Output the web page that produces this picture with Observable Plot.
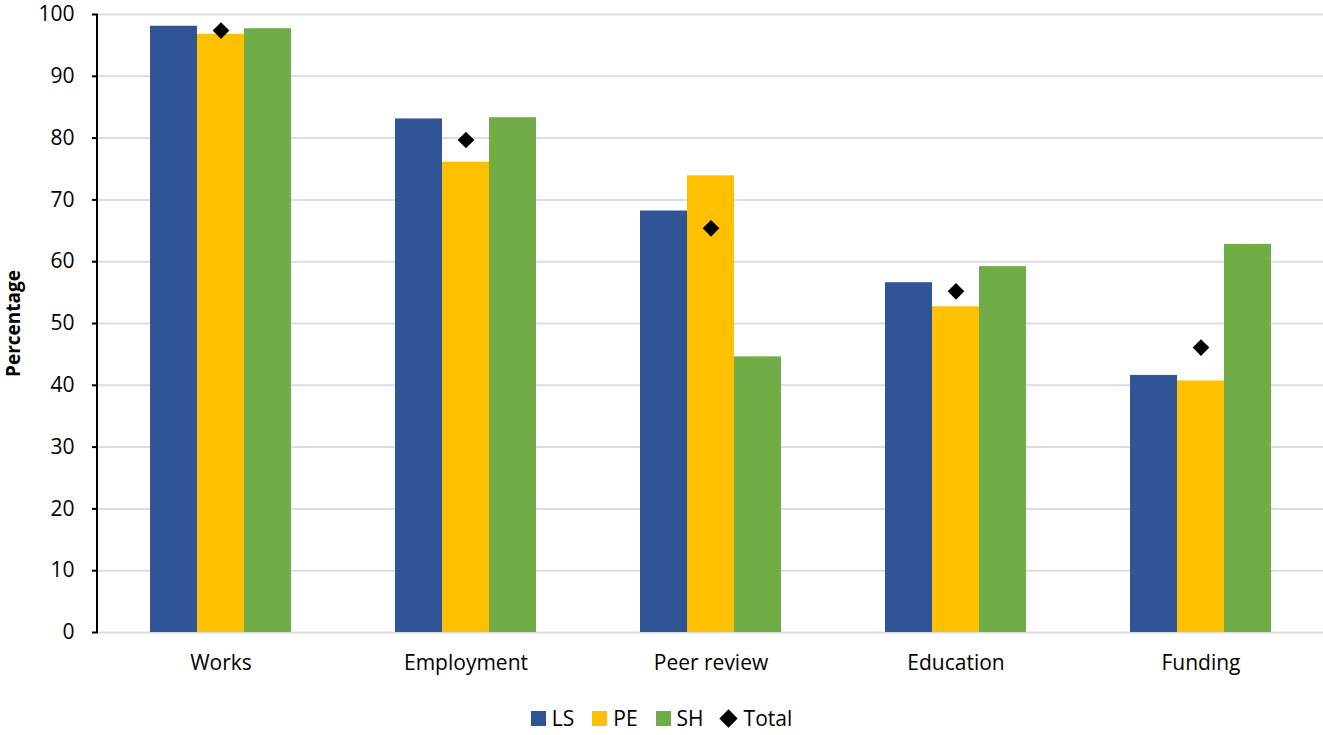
<!DOCTYPE html>
<html>
<head>
<meta charset="utf-8">
<script src="https://cdn.jsdelivr.net/npm/d3@7"></script>
<script src="https://cdn.jsdelivr.net/npm/@observablehq/plot@0.6"></script>
<style>
  body { margin: 0; background: #fff; font-family: "Open Sans", sans-serif; }
  #chart svg { display: block; }
  #legend { display: flex; justify-content: center; align-items: center; gap: 18px; font-size: 21px; color: #000; padding-top: 14px; padding-left: 0px; }
  .item { display: flex; align-items: center; gap: 6px; }
  .sw { width: 15px; height: 15px; display: inline-block; }
  .dia { width: 13px; height: 13px; background: #000; transform: rotate(45deg); display: inline-block; margin-right: 3px; }
</style>
</head>
<body>
<div id="chart"></div>
<div id="legend"></div>
<script>
const categories = ["Works", "Employment", "Peer review", "Education", "Funding"];
const seriesNames = ["LS", "PE", "SH"];
const LS = [98.1, 83.1, 68.2, 56.6, 41.6];
const PE = [96.8, 76.1, 73.9, 52.7, 40.7];
const SH = [97.7, 83.3, 44.6, 59.2, 62.8];
const total = [97.4, 79.7, 65.4, 55.2, 46.1];
const colors = ["#2F5597", "#FFC000", "#70AD47"];
const yTicks = [0, 10, 20, 30, 40, 50, 60, 70, 80, 90, 100];

const seriesValues = [LS, PE, SH];
const bars = [];
categories.forEach((c, i) => seriesNames.forEach((s, j) => bars.push({category: c, series: s, value: seriesValues[j][i]})));
const totals = categories.map((c, i) => ({category: c, series: "PE", value: total[i]}));

const chart = Plot.plot({
  width: 1323,
  height: 690,
  marginTop: 14,
  marginBottom: 58,
  marginLeft: 97,
  marginRight: 0,
  style: {fontFamily: "'Open Sans', sans-serif", fontSize: "21px", color: "#000", background: "#fff"},
  fx: {domain: categories, padding: 0, label: null},
  x: {domain: seriesNames, paddingInner: 0, paddingOuter: 1.09, axis: null},
  y: {domain: [0, 100], ticks: yTicks},
  color: {domain: seriesNames, range: colors},
  marks: [
    Plot.gridY(yTicks, {stroke: "#D9DDE4", strokeOpacity: 1, strokeWidth: 2}),
    Plot.barY(bars, {fx: "category", x: "series", y: "value", fill: "series"}),
    Plot.dot(totals, {fx: "category", x: "series", y: "value", symbol: "diamond2", fill: "#000", stroke: "none", r: 7.5}),
    Plot.axisY(yTicks, {tickSize: 6, tickPadding: 18, fontSize: 21, label: "Percentage", labelAnchor: "center", labelOffset: 92, labelArrow: "none", strokeWidth: 2}),
    Plot.axisFx({anchor: "bottom", tickSize: 0, tickPadding: 23, fontSize: 21, label: null})
  ]
});
document.getElementById("chart").appendChild(chart);

// style the y-axis title
d3.select(chart).selectAll('[aria-label="y-axis label"] text, [aria-label="y-axis label"]')
  .attr("font-size", 19).attr("font-weight", "bold").style("font-size", "19px").style("font-weight", "bold");

// left axis line drawn from the y scale
const ys = chart.scale("y");
d3.select(chart).append("line")
  .attr("x1", 97).attr("x2", 97)
  .attr("y1", ys.apply(0)).attr("y2", ys.apply(100))
  .attr("stroke", "#000").attr("stroke-width", 2);

const legend = document.getElementById("legend");
seriesNames.forEach((s, j) => {
  const it = document.createElement("div"); it.className = "item";
  it.innerHTML = `<span class="sw" style="background:${colors[j]}"></span><span>${s}</span>`;
  legend.appendChild(it);
});
const it = document.createElement("div"); it.className = "item";
it.innerHTML = `<span class="dia"></span><span>Total</span>`;
legend.appendChild(it);
</script>
</body>
</html>
